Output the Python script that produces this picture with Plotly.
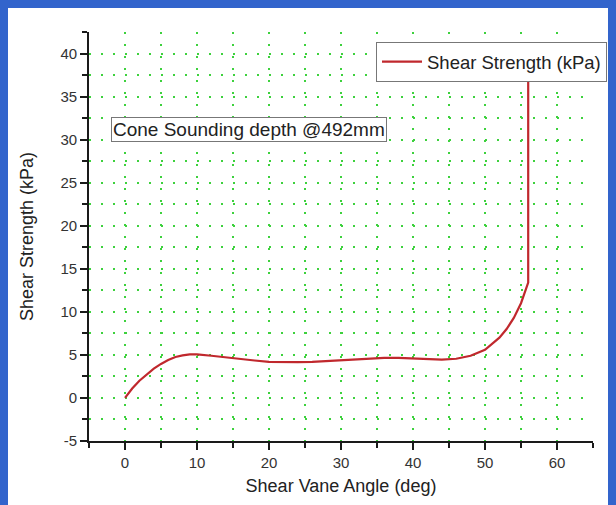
import plotly.graph_objects as go

angle_deg = [0, 1, 2, 3, 4, 5, 6, 7, 8, 9, 10, 12, 14, 16, 18, 20, 22, 24, 26, 28, 30,
             32, 34, 36, 38, 40, 42, 44, 46, 48, 50, 52, 53, 54, 55, 56, 56]
strength_kpa = [0, 1.1, 2.0, 2.75, 3.4, 3.95, 4.4, 4.75, 4.95, 5.05, 5.05, 4.9, 4.7, 4.5,
                4.35, 4.2, 4.15, 4.15, 4.2, 4.3, 4.4, 4.5, 4.6, 4.65, 4.65, 4.6, 4.5, 4.45,
                4.55, 4.9, 5.6, 7.0, 8.0, 9.3, 11.0, 13.4, 38]
series_name = "Shear Strength (kPa)"
note_text = "Cone Sounding depth @492mm"
x_title = "Shear Vane Angle (deg)"
y_title = "Shear Strength (kPa)"
x_tick_vals = [0, 10, 20, 30, 40, 50, 60]
x_tick_text = ["0", "10", "20", "30", "40", "50", "60"]
y_tick_vals = [-5, 0, 5, 10, 15, 20, 25, 30, 35, 40]
y_tick_text = ["-5", "0", "5", "10", "15", "20", "25", "30", "35", "40"]

OFF = 8  # page body margin
W, H = 616 - OFF, 505 - OFF
ml, mr, mt, mb = 89 - OFF, 23, 32 - OFF, 64
pw, ph = W - ml - mr, H - mt - mb

grid_color = "#3dd13d"
axis_color = "#1a1a1a"
font_family = "Liberation Sans, Arial, sans-serif"

fig = go.Figure()
fig.add_trace(go.Scatter(x=angle_deg, y=strength_kpa, mode="lines", name=series_name,
                         line=dict(color="#c0282d", width=2.2)))

fig.update_layout(
    width=W, height=H,
    margin=dict(l=ml, r=mr, t=mt, b=mb, pad=0, autoexpand=False),
    paper_bgcolor="white", plot_bgcolor="white",
    font=dict(family=font_family, color="#333333", size=15),
    showlegend=True,
    legend=dict(x=(376 - OFF - ml) / pw, y=(H - mb - (42 - OFF)) / ph,
                xanchor="left", yanchor="top",
                bgcolor="white", bordercolor="#777777", borderwidth=1,
                font=dict(size=18.5, color="#222222"), itemwidth=40,
                tracegroupgap=0),
)

grid_dash = "2px,10px"
fig.update_xaxes(
    range=[-5, 65], tickvals=x_tick_vals, ticktext=x_tick_text, automargin=False,
    showline=True, linecolor=axis_color, linewidth=1.6,
    ticks="outside", ticklen=7, tickwidth=1.6, tickcolor=axis_color,
    showgrid=True, gridcolor=grid_color, gridwidth=1.8, griddash=grid_dash,
    zeroline=False,
    minor=dict(dtick=5, tick0=0, ticks="outside", ticklen=5, tickwidth=1.6, tickcolor=axis_color,
               showgrid=True, gridcolor=grid_color, gridwidth=1.8, griddash=grid_dash),
    title=dict(text=x_title, font=dict(size=18, color="#222222"), standoff=10),
    tickfont=dict(size=15, color="#333333"),
)
fig.update_yaxes(
    range=[-5, 42.5], tickvals=y_tick_vals, ticktext=y_tick_text, automargin=False,
    showline=True, linecolor=axis_color, linewidth=1.6,
    ticks="outside", ticklen=7, tickwidth=1.6, tickcolor=axis_color,
    showgrid=True, gridcolor=grid_color, gridwidth=1.8, griddash=grid_dash,
    zeroline=False,
    minor=dict(dtick=2.5, tick0=0, ticks="outside", ticklen=5, tickwidth=1.6, tickcolor=axis_color,
               showgrid=True, gridcolor=grid_color, gridwidth=1.8, griddash=grid_dash),
    title=dict(text=y_title, font=dict(size=18, color="#222222"), standoff=22),
    tickfont=dict(size=15, color="#333333"),
)

fig.add_annotation(
    text=note_text, xref="paper", yref="paper",
    x=(111 - OFF - ml) / pw, y=(H - mb - (117 - OFF)) / ph, xanchor="left", yanchor="top",
    showarrow=False, bgcolor="white", bordercolor="#777777", borderwidth=1, borderpad=1,
    font=dict(size=19, color="#222222"),
)

fig.write_html(
    "out.html",
    post_script="document.body.style.background='#3264cc';document.body.style.overflow='hidden';",
)
